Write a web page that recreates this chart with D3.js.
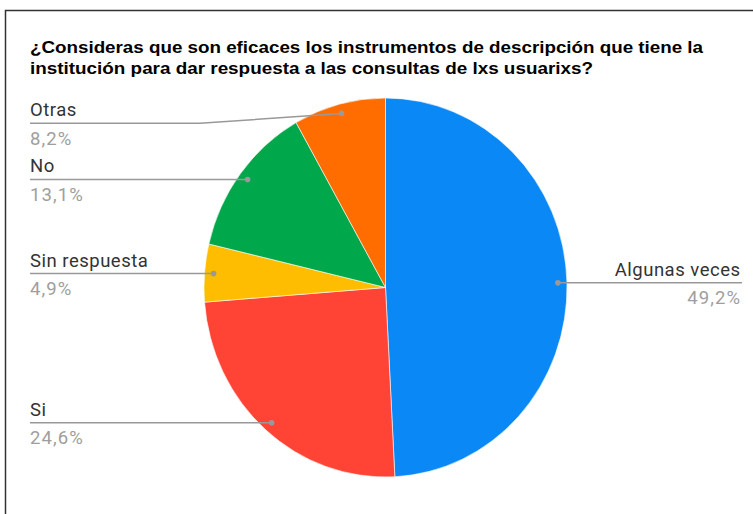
<!DOCTYPE html>
<html>
<head>
<meta charset="utf-8">
<script src="https://cdn.jsdelivr.net/npm/d3@7/dist/d3.min.js"></script>
<style>
  html, body { margin: 0; padding: 0; background: #fff; }
  svg { display: block; }
</style>
</head>
<body>
<svg id="chart" width="753" height="514"></svg>
<script>
// ---- data ----
const titleLines = [
  "¿Consideras que son eficaces los instrumentos de descripción que tiene la",
  "institución para dar respuesta a las consultas de lxs usuarixs?"
];
const categories = ["Algunas veces", "Si", "Sin respuesta", "No", "Otras"];
const values = [30, 15, 3, 8, 5];
const percentLabels = ["49,2%", "24,6%", "4,9%", "13,1%", "8,2%"];
const colors = ["#0A88F6", "#FF4335", "#FFBD00", "#00A84B", "#FF6D00"];

// ---- layout ----
const W = 753, H = 514;
const cx = 385.5, cy = 287.5, rx = 181.5, ry = 189.5;
const svg = d3.select("#chart");

// frame
svg.append("path")
  .attr("d", `M5.5,${H} L5.5,10.5 L${W},10.5`)
  .attr("fill", "none").attr("stroke", "#333").attr("stroke-width", 1.5);

// title
const title = svg.append("g");
titleLines.forEach((t, i) => {
  const el = title.append("text")
    .attr("x", 30).attr("y", 53 + i * 21)
    .attr("font-family", "Liberation Sans, Arial, sans-serif")
    .attr("font-weight", "bold").attr("font-size", 16)
    .attr("fill", "#000").text(t);
  const target = i === 0 ? 673 : 563;
  el.attr("textLength", target).attr("lengthAdjust", "spacingAndGlyphs");
});

// pie
const pie = d3.pie().sort(null).value(d => d)(values);
const arc = d3.arc().innerRadius(0).outerRadius(ry);
const g = svg.append("g").attr("transform", `translate(${cx},${cy}) scale(${rx / ry},1)`);
g.selectAll("path").data(pie).join("path")
  .attr("d", arc)
  .attr("fill", (d, i) => colors[i])
  .attr("stroke", "#fff").attr("stroke-width", 0.6);

// labels
const dotFrac = 0.95;
const minLabelY = 123.3;
const leftX = 30, rightX = 742, bendLeftX = 200;
const labels = svg.append("g");
pie.forEach((d, i) => {
  const a = (d.startAngle + d.endAngle) / 2;
  const dx = cx + Math.sin(a) * rx * dotFrac;
  const dy = cy - Math.cos(a) * ry * dotFrac;
  const right = Math.sin(a) > 0;
  const ly = Math.max(dy, minLabelY);
  let pts;
  if (right) {
    pts = [[dx, dy], [rightX, ly]];
  } else {
    pts = Math.abs(ly - dy) > 0.5 ? [[leftX, ly], [bendLeftX, ly], [dx, dy]] : [[leftX, ly], [dx, dy]];
  }
  labels.append("path")
    .attr("d", d3.line()(pts))
    .attr("fill", "none").attr("stroke", "#999").attr("stroke-width", 1.5);
  labels.append("circle").attr("cx", dx).attr("cy", dy).attr("r", 2.8).attr("fill", "#999");
  const tx = right ? 740 : leftX;
  const anchor = right ? "end" : "start";
  const nameEl = labels.append("text")
    .attr("x", tx).attr("y", ly - 7)
    .attr("font-family", "Roboto, sans-serif").attr("font-size", 18.5)
    .attr("letter-spacing", 0.5)
    .attr("fill", "#333").text(categories[i]);
  const pctEl = labels.append("text")
    .attr("x", tx).attr("y", ly + 21.5)
    .attr("font-family", "Roboto, sans-serif").attr("font-size", 18.5)
    .attr("letter-spacing", 1.1)
    .attr("fill", "#9e9e9e").text(percentLabels[i]);
  if (right) {
    // right-align manually so trailing letter-spacing does not shift text
    [nameEl, pctEl].forEach(el => {
      const w = el.node().getBBox().width;
      const ls = +el.attr("letter-spacing");
      el.attr("x", tx - w + ls);
    });
  }
});
</script>
</body>
</html>
